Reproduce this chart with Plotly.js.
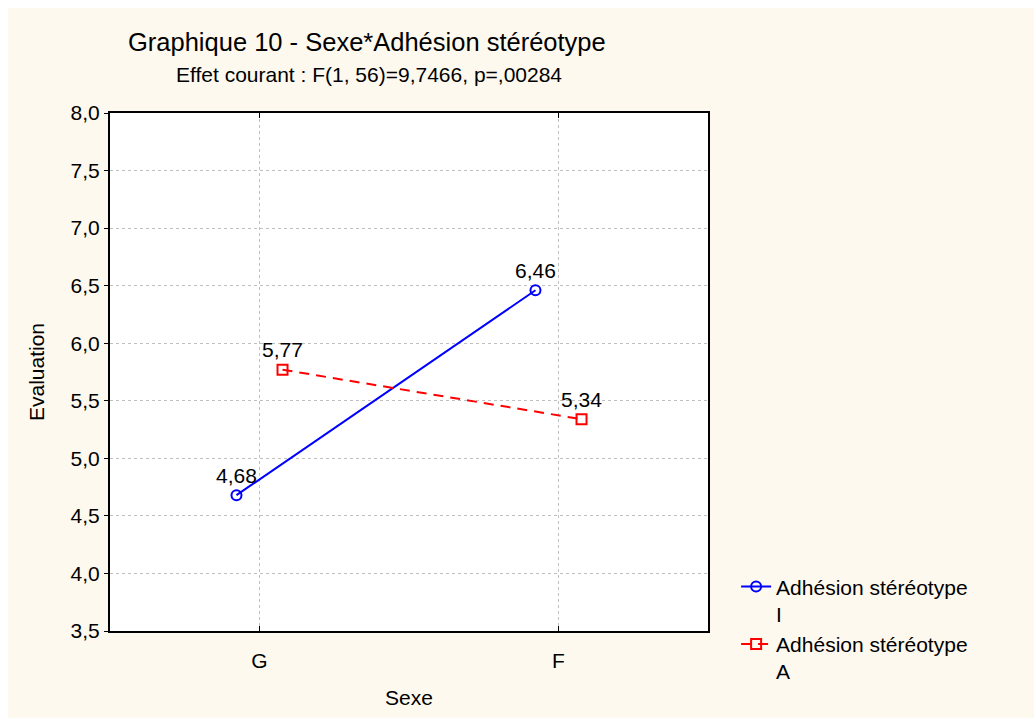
<!DOCTYPE html>
<html>
<head>
<meta charset="utf-8">
<script src="https://cdn.plot.ly/plotly-3.0.1.min.js"></script>
<style>
  html, body { margin: 0; padding: 0; background: #ffffff; }
  #chart { position: absolute; left: 8px; top: 8px; width: 1026px; height: 710px; }
</style>
</head>
<body>
<div id="chart"></div>
<script>
const categories = ["G", "F"];
const categoryPos = [0, 1];
const seriesNames = ["Adhésion stéréotype<br>I", "Adhésion stéréotype<br>A"];
const seriesI = [4.68, 6.46];
const seriesA = [5.77, 5.34];
const offset = 0.077;

const font = "Liberation Sans, Arial, sans-serif";

const traceI = {
  x: categoryPos.map(v => v - offset),
  y: seriesI,
  name: seriesNames[0],
  type: "scatter",
  mode: "lines+markers+text",
  line: { color: "#0000FF", width: 2 },
  marker: { symbol: "circle-open", size: 10, color: "#0000FF", line: { width: 2 } },
  texttemplate: "%{y:.2f}",
  textposition: "top center",
  textfont: { family: font, size: 21, color: "#000" },
  cliponaxis: false
};
const traceA = {
  x: categoryPos.map(v => v + offset),
  y: seriesA,
  name: seriesNames[1],
  type: "scatter",
  mode: "lines+markers+text",
  line: { color: "#FF0000", width: 2, dash: "10px,7px" },
  marker: { symbol: "square-open", size: 10, color: "#FF0000", line: { width: 2 } },
  texttemplate: "%{y:.2f}",
  textposition: "top center",
  textfont: { family: font, size: 21, color: "#000" },
  cliponaxis: false
};

const layout = {
  width: 1026,
  height: 710,
  paper_bgcolor: "#FEF9EF",
  plot_bgcolor: "#FFFFFF",
  separators: ", ",
  font: { family: font, size: 21, color: "#000" },
  margin: { l: 102, r: 326, t: 105, b: 87 },
  showlegend: true,
  legend: {
    x: 1.047, xanchor: "left",
    y: 0.125, yanchor: "top",
    valign: "top",
    bgcolor: "rgba(0,0,0,0)",
    font: { family: font, size: 21, color: "#000" },
    tracegroupgap: 0
  },
  xaxis: {
    range: [-0.5, 1.5],
    tickmode: "array",
    tickvals: categoryPos,
    ticktext: categories,
    ticks: "inside",
    ticklen: 5,
    tickwidth: 1,
    tickcolor: "#000",
    showline: true,
    linecolor: "#000",
    linewidth: 2,
    mirror: "ticks",
    showgrid: true,
    gridcolor: "#C0C0C0",
    griddash: "3px,3px",
    gridwidth: 1,
    zeroline: false,
    ticklabelstandoff: 10,
    tickfont: { family: font, size: 21 },
    title: { text: "Sexe", font: { family: font, size: 21 }, standoff: 19 }
  },
  yaxis: {
    range: [3.5, 8.0],
    tickmode: "array",
    tickvals: [3.5, 4.0, 4.5, 5.0, 5.5, 6.0, 6.5, 7.0, 7.5, 8.0],
    tickformat: ".1f",
    ticks: "outside",
    ticklen: 4,
    tickwidth: 1,
    tickcolor: "#000",
    showline: true,
    linecolor: "#000",
    linewidth: 2,
    mirror: true,
    showgrid: true,
    gridcolor: "#C0C0C0",
    griddash: "3px,3px",
    gridwidth: 1,
    zeroline: false,
    tickfont: { family: font, size: 21 },
    title: { text: "Evaluation", font: { family: font, size: 21 }, standoff: 20 }
  },
  annotations: [
    {
      text: "Graphique 10 - Sexe*Adhésion stéréotype",
      xref: "paper", yref: "paper",
      x: 0.43, y: 1.0 + (105 - 34) / 518,
      xanchor: "center", yanchor: "middle",
      showarrow: false,
      font: { family: font, size: 25.5, color: "#000" }
    },
    {
      text: "Effet courant : F(1, 56)=9,7466, p=,00284",
      xref: "paper", yref: "paper",
      x: 0.433, y: 1.0 + (105 - 66) / 518,
      xanchor: "center", yanchor: "middle",
      showarrow: false,
      font: { family: font, size: 21, color: "#000" }
    }
  ]
};

Plotly.newPlot("chart", [traceI, traceA], layout, { displayModeBar: false, staticPlot: true });
</script>
</body>
</html>
